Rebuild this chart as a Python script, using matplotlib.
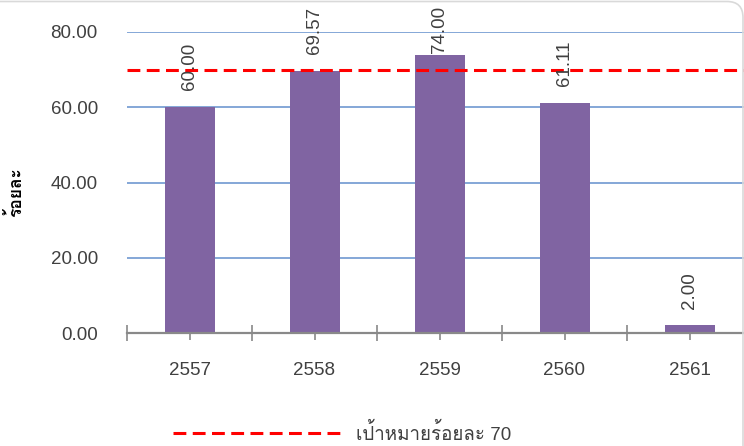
import matplotlib
matplotlib.use("Agg")
import matplotlib.pyplot as plt
from matplotlib import font_manager as fm
from matplotlib.ft2font import FT2Font
from matplotlib.patches import FancyBboxPatch
from matplotlib.transforms import IdentityTransform

years = ["2557", "2558", "2559", "2560", "2561"]
percent = [60.00, 69.57, 74.00, 61.11, 2.00]
target = 70
target_label = "เป้าหมายร้อยละ 70"
y_label = "ร้อยละ"
y_ticks = [0, 20, 40, 60, 80]


def thai_families():
    # ฟอนต์ที่มีอักษรไทย
    found = []
    for f in fm.fontManager.ttflist:
        try:
            if FT2Font(f.fname).get_char_index(0x0E23) and f.name not in found:
                found.append(f.name)
        except Exception:
            pass
    return found


thai = thai_families()
plt.rcParams["font.family"] = ["Liberation Sans"] + thai + ["DejaVu Sans"]
plt.rcParams["font.size"] = 13.5

fig = plt.figure(figsize=(7.44, 4.46), dpi=100)
ax = fig.add_axes([127 / 744, 113 / 446, 625 / 744, 301 / 446])

x = list(range(len(years)))
ax.bar(x, percent, width=0.4, color="#8064A2", zorder=2)
ax.axhline(target, color="#FF0000", lw=2.2, linestyle=(0, (4.2, 2.1)), zorder=3,
           label=target_label)

for xi, v in zip(x, percent):
    ax.text(xi, min(v + 4.5, 74.4), f"{v:.2f}", rotation=90, ha="center", va="bottom",
            color="#404040", fontsize=13.5, clip_on=False, zorder=4)

ax.set_xlim(-0.5, 4.5)
ax.set_ylim(0, 80)
ax.set_yticks(y_ticks)
ax.set_yticklabels([f"{t:.2f}" for t in y_ticks], color="#404040")
ax.yaxis.grid(True, color="#7BA0D4", lw=1.3, zorder=1)
ax.tick_params(axis="y", length=0, pad=21)

ax.set_xticks(x)
ax.set_xticklabels(years, color="#404040")
ax.set_xticks([i - 0.5 for i in range(len(years) + 1)], minor=True)
ax.tick_params(axis="x", which="major", direction="inout", length=10, width=1.2,
               color="#898989", pad=16)
ax.tick_params(axis="x", which="minor", direction="inout", length=12.2, width=1.2,
               color="#898989")

for side in ["left", "right", "top"]:
    ax.spines[side].set_visible(False)
ax.spines["bottom"].set_color("#898989")
ax.spines["bottom"].set_linewidth(1.6)

fig.text(15 / 744, 1 - 192 / 446, y_label, rotation=90, ha="center", va="center",
         fontsize=12.5, fontweight="bold", color="#000000")

fig.legend(loc="center", bbox_to_anchor=(342 / 744, 1 - 433 / 446), frameon=False,
           handlelength=9, fontsize=13.5, labelcolor="#404040", borderpad=0.2)

# กรอบมุมโค้งด้านบนขวา
border = FancyBboxPatch((-20, -20), 763, 464.5, boxstyle="round,pad=0,rounding_size=16",
                        transform=IdentityTransform(), fill=False, edgecolor="#D9D9D9",
                        lw=1.2)
fig.patches.append(border)

fig.savefig("out.png", dpi=100)
